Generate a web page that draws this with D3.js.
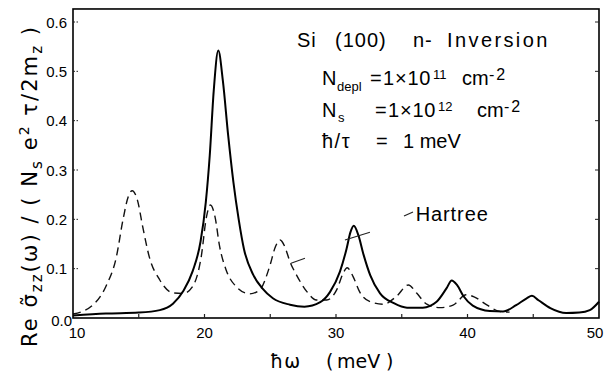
<!DOCTYPE html>
<html><head><meta charset="utf-8">
<script src="https://cdn.jsdelivr.net/npm/d3@7"></script>
<style>html,body{margin:0;padding:0;background:#fff;}svg{display:block;}</style>
</head><body>
<svg id="c" width="613" height="373"></svg>
<script>
// ---- data ----
const xTicks = [10, 20, 30, 40, 50];
const xMinor = [15, 20, 25, 30, 35, 40, 45];
const yTicks = [0.0, 0.1, 0.2, 0.3, 0.4, 0.5, 0.6];

const fullE = [10, 12.5, 15, 16.6, 17.6, 18.4, 19.1, 19.7, 20.1, 20.4, 20.7, 21.05, 21.4, 21.8, 22.2, 22.6, 23.0, 23.7, 24.4, 25.2, 26.5, 27.6, 28.8, 29.55, 30.3, 30.8, 31.1, 31.35, 31.7, 32.1, 32.6, 33.35, 34.4, 35.4, 36.6, 37.65, 38.4, 38.8, 39.2, 39.7, 40.4, 41.7, 42.7, 43.7, 44.5, 44.9, 45.4, 46.3, 47.5, 48.5, 49.3, 50];
const fullV = [0.005, 0.009, 0.011, 0.016, 0.029, 0.055, 0.095, 0.155, 0.235, 0.33, 0.46, 0.542, 0.48, 0.37, 0.275, 0.2, 0.14, 0.088, 0.06, 0.04, 0.027, 0.023, 0.032, 0.053, 0.094, 0.14, 0.174, 0.187, 0.168, 0.128, 0.087, 0.05, 0.03, 0.021, 0.021, 0.033, 0.06, 0.076, 0.067, 0.044, 0.025, 0.014, 0.013, 0.026, 0.04, 0.045, 0.036, 0.02, 0.01, 0.011, 0.016, 0.033];

const hartreeE = [10, 11.5, 12.5, 13.3, 13.8, 14.2, 14.5, 14.9, 15.3, 15.8, 16.6, 17.6, 18.4, 19.1, 19.75, 20.15, 20.45, 20.8, 21.15, 21.65, 22.4, 23.45, 24.2, 24.95, 25.4, 25.75, 26.1, 26.5, 27.0, 27.8, 28.5, 29.3, 30.05, 30.55, 30.85, 31.3, 31.8, 32.6, 33.6, 34.6, 35.5, 36.15, 36.9, 37.9, 38.9, 39.9, 40.5, 41.5, 42.5, 43.2];
const hartreeV = [0.008, 0.026, 0.064, 0.124, 0.199, 0.246, 0.258, 0.239, 0.185, 0.124, 0.077, 0.051, 0.05, 0.064, 0.124, 0.205, 0.229, 0.205, 0.145, 0.097, 0.064, 0.049, 0.057, 0.104, 0.145, 0.158, 0.145, 0.114, 0.087, 0.053, 0.0365, 0.0365, 0.057, 0.091, 0.102, 0.084, 0.053, 0.033, 0.028, 0.044, 0.067, 0.05, 0.028, 0.021, 0.026, 0.047, 0.043, 0.026, 0.013, 0.012];

// ---- layout ----
const svg = d3.select("#c");
const x = d3.scaleLinear().domain([10, 50]).range([73, 599]);
const y = d3.scaleLinear().domain([0, 0.6]).range([318, 22]);
const yTop = 0.6264;
const FONT = "'DejaVu Sans', sans-serif";
const AFONT = "'Liberation Sans', Arial, sans-serif";

// curves
const line = d3.line().x(d => x(d[0])).y(d => y(d[1])).curve(d3.curveMonotoneX);
svg.append("path").datum(hartreeE.map((e, i) => [e, hartreeV[i]]))
  .attr("d", line).attr("fill", "none").attr("stroke", "#111")
  .attr("stroke-width", 1.4).attr("stroke-dasharray", "8,5");
svg.append("path").datum(fullE.map((e, i) => [e, fullV[i]]))
  .attr("d", line).attr("fill", "none").attr("stroke", "#000")
  .attr("stroke-width", 2);

// frame
svg.append("rect").attr("x", x(10)).attr("y", y(yTop))
  .attr("width", x(50) - x(10)).attr("height", y(0) - y(yTop))
  .attr("fill", "none").attr("stroke", "#000").attr("stroke-width", 1.6);

// ticks (inside)
const g = svg.append("g").attr("stroke", "#222");
xMinor.forEach(v => g.append("line").attr("x1", x(v)).attr("x2", x(v))
  .attr("y1", y(0)).attr("y2", y(0) - 4).attr("stroke-width", 1.2));
yTicks.slice(1).forEach(v => {
  g.append("line").attr("x1", x(10)).attr("x2", x(10) + 5).attr("y1", y(v)).attr("y2", y(v))
    .attr("stroke-width", 1).attr("stroke-dasharray", "2,1.5");
  g.append("line").attr("x1", x(50)).attr("x2", x(50) - 4).attr("y1", y(v)).attr("y2", y(v))
    .attr("stroke-width", 1);
});

// tick labels
xTicks.forEach(v => {
  const dx = v === 10 ? 4 : (v === 50 ? -4 : 0);
  svg.append("text").attr("x", x(v) + dx).attr("y", 338).attr("text-anchor", "middle")
    .attr("font-family", AFONT).attr("font-size", 15).attr("fill", "#000").text(v);
});
yTicks.forEach(v => {
  const isZero = v === 0;
  svg.append("text").attr("x", isZero ? 72 : 67).attr("y", isZero ? 326 : y(v) + 5.5)
    .attr("text-anchor", "end").attr("font-family", AFONT).attr("font-size", 15)
    .attr("fill", "#000").text(d3.format(".1f")(v));
});

// helper for text pieces
function piece(t, px, py, size, ls, fam) {
  return svg.append("text").attr("x", px).attr("y", py).attr("font-family", fam || AFONT)
    .attr("font-size", size).attr("letter-spacing", ls || 0).attr("fill", "#000").text(t);
}

// x axis title
piece("ħω", 270, 368, 19, 1, FONT);
piece("(", 326, 368, 19, 0, FONT);
piece("meV", 337, 368, 19, 0, FONT);
piece(")", 386, 368, 19, 0, FONT);

// y axis title (rotated)
const yt = svg.append("text").attr("transform", "translate(37,347) rotate(-90)")
  .attr("font-family", FONT).attr("font-size", 21).attr("fill", "#000")
  .attr("textLength", 320).attr("lengthAdjust", "spacing");
yt.append("tspan").text("Re σ\u0303");
yt.append("tspan").attr("font-size", 15).attr("dy", 5).text("zz");
yt.append("tspan").attr("dy", -5).text("(ω) / ( N");
yt.append("tspan").attr("font-size", 15).attr("dy", 5).text("s");
yt.append("tspan").attr("dy", -5).text(" e");
yt.append("tspan").attr("font-size", 14).attr("dy", -8).text("2");
yt.append("tspan").attr("dy", 8).text(" τ/2m");
yt.append("tspan").attr("font-size", 15).attr("dy", 5).text("z");
yt.append("tspan").attr("dy", -5).text(" )");

// annotation block
piece("Si", 297, 46.5, 20, 1);
piece("(100)", 335, 46.5, 20, 1);
piece("n-", 413, 46.5, 20, 1);
piece("Inversion", 447, 46.5, 20, 2.4);

piece("N", 322, 85, 20);
piece("depl", 337, 91, 13);
piece("=", 370, 85, 20);
piece("1×10", 383, 85, 20, 0.8);
piece("11", 433, 79, 13);
piece("cm", 462, 85, 20);
piece("-2", 489, 80, 16, 2);

piece("N", 322, 116.7, 20);
piece("s", 338, 122, 13);
piece("=", 375, 116.7, 20);
piece("1×10", 388, 116.7, 20, 0.8);
piece("12", 438, 111, 13);
piece("cm", 477, 116.7, 20);
piece("-2", 504, 111.5, 16, 2);

piece("ħ/τ", 322, 148.3, 20, 1.5);
piece("=", 376, 148.3, 20);
piece("1 meV", 403, 148.3, 20);

piece("Hartree", 415.7, 221, 20, 0.9);

// pointer strokes
const ptr = [
  [[26.58, 0.111], [27.64, 0.121]],
  [[30.68, 0.158], [32.58, 0.174]],
];
ptr.forEach(p => svg.append("line").attr("x1", x(p[0][0])).attr("y1", y(p[0][1]))
  .attr("x2", x(p[1][0])).attr("y2", y(p[1][1])).attr("stroke", "#222").attr("stroke-width", 1.1));
svg.append("line").attr("x1", 404).attr("y1", 216).attr("x2", 413).attr("y2", 212)
  .attr("stroke", "#222").attr("stroke-width", 1.1);
</script>
</body></html>
